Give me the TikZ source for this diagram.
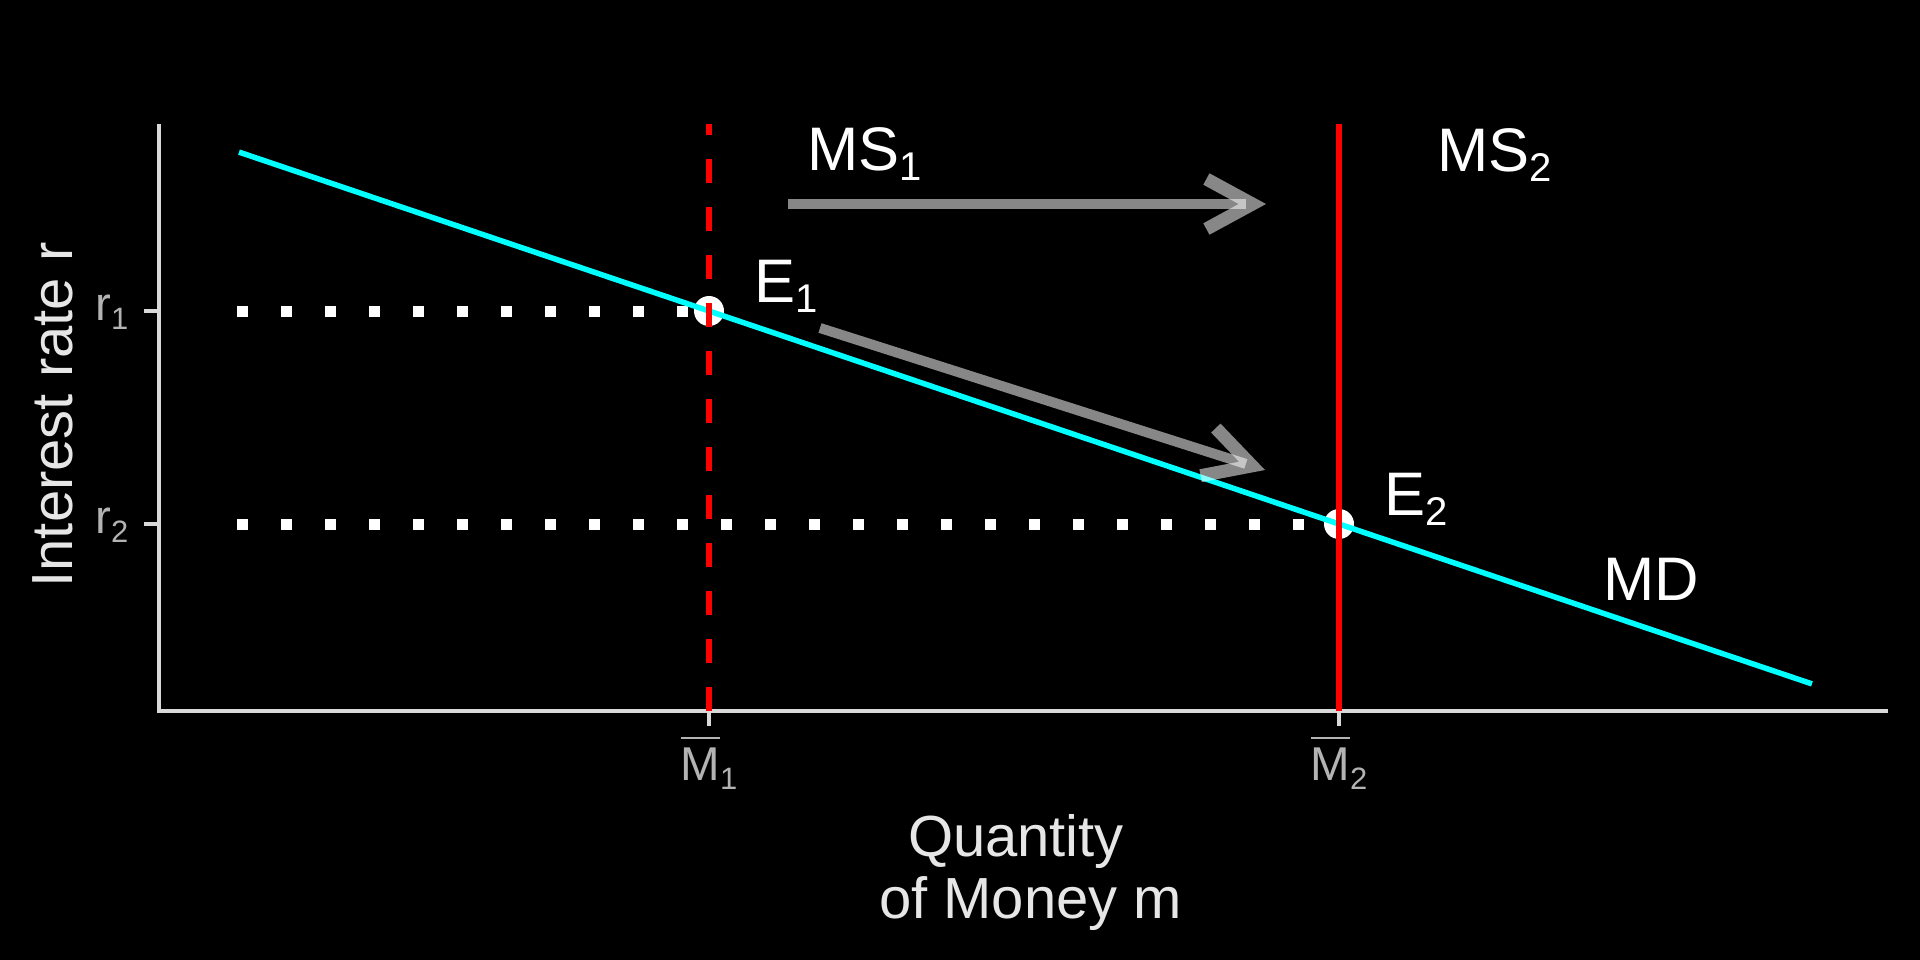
\documentclass[tikz,border=0pt]{standalone}
\usepackage{fontspec}
\setmainfont{Liberation Sans}
\usetikzlibrary{arrows.meta, positioning}

\definecolor{axisgrey}{HTML}{D9D9D9}
\definecolor{tickgrey}{HTML}{B3B3B3}
\definecolor{titlegrey}{HTML}{E6E6E6}
\definecolor{mdcyan}{HTML}{00FFFF}
\definecolor{msred}{HTML}{FF0000}

\newcommand{\annsub}[2]{#1\raisebox{-1.05mm}{\fontsize{11.4}{12}\selectfont #2}}
\newcommand{\ticksub}[2]{#1\raisebox{-0.9mm}{\fontsize{8.8}{9}\selectfont #2}}
\newcommand{\barM}{\leavevmode\vbox{\hrule height 0.2mm\kern0.8mm\hbox{M}}}

\tikzset{
  axisline/.style = {draw=axisgrey, line width=0.4mm},
  ticklabel/.style = {text=tickgrey, font=\fontsize{13.5}{14}\selectfont, inner sep=0pt},
  axistitle/.style = {text=titlegrey, font=\fontsize{16.5}{17.6}\selectfont, inner sep=0pt, align=center},
  annot/.style = {text=white, font=\fontsize{17.5}{18}\selectfont, inner sep=0pt, anchor=base west},
  guide/.style = {draw=white, line width=1.1mm, dash pattern=on 1.1mm off 3.3mm},
  demand/.style = {draw=mdcyan, line width=0.55mm},
  supply/.style = {draw=msred, line width=0.6mm},
  shiftarrow/.style = {draw=white, draw opacity=0.53, line width=1mm, -{Straight Barb[length=4.6mm, width=5mm, line width=1.3mm, line cap=butt]}}
}

\begin{document}
\begin{tikzpicture}[x=0.1mm, y=-0.1mm]

% Canvas
\fill[black] (0,0) rectangle (1920,960);

% Key points
\coordinate (origin) at (159,711);
\coordinate (ytop) at (159,124);
\coordinate (xend) at (1888,711);
\coordinate (e1) at (709,311);
\coordinate (e2) at (1339,524);

% Axes and ticks
\draw[axisline] (origin) -- (ytop);
\draw[axisline] (157,711) coordinate (xstart) -- (xend);
\coordinate (r1) at (159,311);
\coordinate (r2) at (159,524);
\coordinate (r1t) at (144,311);
\coordinate (r2t) at (144,524);
\coordinate (m1) at (709,711);
\coordinate (m2) at (1339,711);
\coordinate (m1t) at (709,726);
\coordinate (m2t) at (1339,726);
\draw[axisline] (r1) -- (r1t);
\draw[axisline] (r2) -- (r2t);
\draw[axisline] (m1) -- (m1t);
\draw[axisline] (m2) -- (m2t);

\node[ticklabel, anchor=base east] (r1lab) at (129,320) {\ticksub{r}{1}};
\node[ticklabel, anchor=base east] (r2lab) at (129,533) {\ticksub{r}{2}};
\node[ticklabel, anchor=base] (m1lab) at (709,780) {\ticksub{\barM}{1}};
\node[ticklabel, anchor=base] (m2lab) at (1339,780) {\ticksub{\barM}{2}};

% Axis titles
\node[axistitle, rotate=90, anchor=base] (ytitle) at (73,415) {Interest rate r};
\node[axistitle, anchor=north] (xtitle) at (1016,814) {Quantity\\\hspace*{0.5em}of Money m};

% Guides to the rates
\coordinate (g1) at (237,311);
\coordinate (g2) at (237,524);
\draw[guide] (g1) -- (e1);
\draw[guide] (g2) -- (e2);

% Equilibria
\fill[white] (e1) circle (1.5mm);
\fill[white] (e2) circle (1.5mm);

% Money demand
\coordinate (mdstart) at (239,152.1);
\coordinate (mdend) at (1812,683.9);
\draw[demand] (mdstart) -- (mdend);

% Money supply, before and after
\coordinate (ms1top) at (709,124);
\coordinate (ms2top) at (1339,124);
\draw[supply, dash pattern=on 2.4mm off 2.4mm] (m1) -- (ms1top);
\draw[supply] (m2) -- (ms2top);

% Shifts
\coordinate (a1s) at (788,204);
\coordinate (a1e) at (1266,204);
\coordinate (a2s) at (820,328);
\coordinate (a2e) at (1265,470);
\draw[shiftarrow] (a1s) -- (a1e);
\draw[shiftarrow] (a2s) -- (a2e);

% Labels
\node[annot] (ms1lab) at (807,170) {\annsub{MS}{1}};
\node[annot] (ms2lab) at (1437,171) {\annsub{MS}{2}};
\node[annot] (e1lab) at (754,302) {\annsub{E}{1}};
\node[annot] (e2lab) at (1384,515) {\annsub{E}{2}};
\node[annot] (mdlab) at (1603,600) {MD};

\end{tikzpicture}
\end{document}
